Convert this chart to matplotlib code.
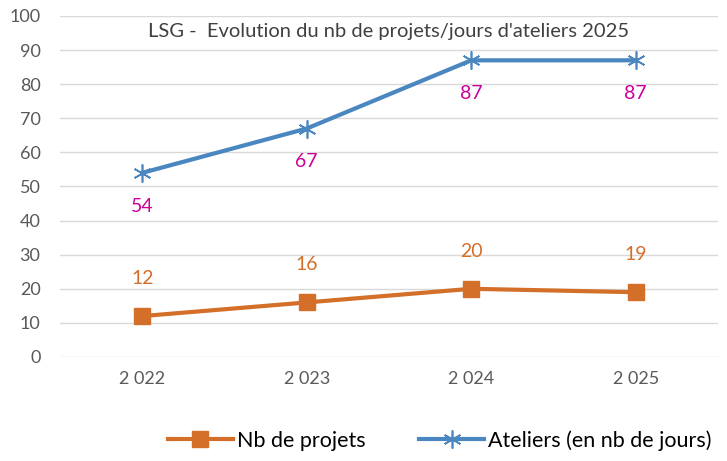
import matplotlib.pyplot as plt

years = ['2 022', '2 023', '2 024', '2 025']
projets = [12, 16, 20, 19]
ateliers = [54, 67, 87, 87]

orange = '#D46F2A'
blue = '#4A86C0'
pink = '#CC0099'

plt.rcParams['font.family'] = ['Lato', 'DejaVu Sans']

fig = plt.figure(figsize=(7.27, 4.61), dpi=100)
ax = fig.add_axes([0.0825, 0.2256, 0.905, 0.7397])

x = list(range(len(years)))
ax.plot(x, projets, color=orange, lw=3, marker='s', ms=11,
        label='Nb de projets', zorder=3)
ax.plot(x, ateliers, color=blue, lw=3, marker=(6, 2, 0), ms=13, mew=1.2,
        label='Ateliers (en nb de jours)', zorder=3)

for xi, v in zip(x, projets):
    ax.annotate(str(v), (xi, v), xytext=(0, 27), textcoords='offset points',
                ha='center', va='center', color=orange, fontsize=14)
for xi, v in zip(x, ateliers):
    ax.annotate(str(v), (xi, v), xytext=(0, -24), textcoords='offset points',
                ha='center', va='center', color=pink, fontsize=14)

ax.set_xlim(-0.5, 3.5)
ax.set_ylim(0, 100)
ax.set_yticks(range(0, 101, 10))
ax.set_xticks(x)
ax.set_xticklabels(years)
ax.tick_params(length=0, labelsize=13, labelcolor='#595959', pad=10)
ax.tick_params(axis='y', pad=14)
ax.grid(axis='y', color='#D9D9D9', lw=1)
ax.set_axisbelow(True)
for s in ax.spines.values():
    s.set_visible(False)

ax.text(0.5, 0.955, "LSG -  Evolution du nb de projets/jours d'ateliers 2025",
        transform=ax.transAxes, ha='center', va='center', fontsize=14.5,
        color='#404040')

fig.legend(loc='center', bbox_to_anchor=(0.605, 0.045), ncol=2, frameon=False,
           fontsize=15.5, handlelength=3, columnspacing=2.5, handletextpad=0.2)

plt.savefig('out.png', dpi=100)
